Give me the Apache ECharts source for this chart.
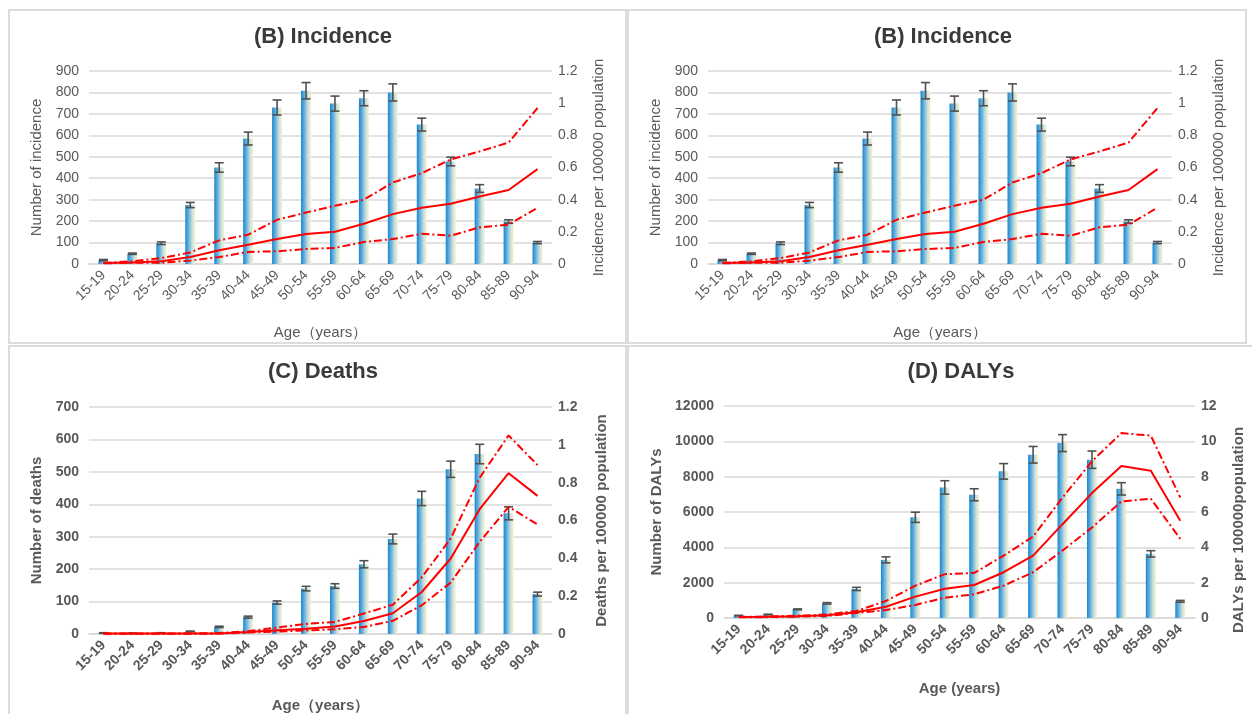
<!DOCTYPE html>
<html>
<head>
<meta charset="utf-8">
<script src="https://cdn.jsdelivr.net/npm/echarts@6/dist/echarts.min.js"></script>
<style>
  html, body { margin: 0; padding: 0; background: #fff; }
  .panel { position: absolute; box-sizing: border-box; border: 2px solid #dcdcdc; background: #fff; }
</style>
</head>
<body>
<div class="panel" id="p1" style="left:8px;top:9px;width:619px;height:335px;"></div>
<div class="panel" id="p2" style="left:627px;top:9px;width:620px;height:335px;"></div>
<div class="panel" id="p3" style="left:8px;top:345px;width:619px;height:369px;border-bottom:none;"></div>
<div class="panel" id="p4" style="left:627px;top:345px;width:625px;height:369px;border-bottom:none;border-right:none;"></div>
<script>
// age groups (x axis)
const ageGroups = ['15-19', '20-24', '25-29', '30-34', '35-39', '40-44', '45-49', '50-54',
  '55-59', '60-64', '65-69', '70-74', '75-79', '80-84', '85-89', '90-94'];

// incidence: counts, half width of error bar, rate per 100000 with bounds
const incidenceNum = [18, 48, 97, 275, 450, 585, 730, 808, 748, 773, 800, 650, 478, 352, 198, 100];
const incidenceErr = [3, 3, 6, 12, 22, 30, 35, 38, 35, 35, 40, 30, 20, 18, 8, 5];
const incidenceRate = [0.006, 0.01, 0.017, 0.043, 0.085, 0.12, 0.155, 0.186, 0.2, 0.25, 0.31, 0.35, 0.375, 0.42, 0.46, 0.59];
const incidenceUpper = [0.006, 0.017, 0.037, 0.072, 0.147, 0.182, 0.275, 0.32, 0.362, 0.4, 0.507, 0.565, 0.65, 0.7, 0.755, 0.97];
const incidenceLower = [0.004, 0.008, 0.008, 0.021, 0.043, 0.075, 0.079, 0.093, 0.1, 0.137, 0.155, 0.188, 0.176, 0.228, 0.245, 0.35];

// deaths
const deathsNum = [3, 2, 3, 8, 22, 52, 97, 140, 148, 215, 293, 418, 508, 555, 372, 123];
const deathsErr = [1, 1, 1, 1, 2, 3, 5, 7, 7, 11, 15, 22, 25, 30, 20, 6];
const deathsRate = [0.002, 0.002, 0.002, 0.002, 0.003, 0.01, 0.02, 0.028, 0.04, 0.069, 0.11, 0.222, 0.399, 0.66, 0.85, 0.73];
const deathsUpper = [0.003, 0.003, 0.003, 0.003, 0.005, 0.015, 0.034, 0.053, 0.064, 0.108, 0.155, 0.3, 0.505, 0.826, 1.05, 0.893];
const deathsLower = [0.001, 0.001, 0.001, 0.001, 0.002, 0.008, 0.013, 0.019, 0.025, 0.037, 0.07, 0.152, 0.272, 0.487, 0.672, 0.579];

// DALYs
const dalysNum = [140, 200, 490, 830, 1645, 3290, 5700, 7390, 6975, 8300, 9240, 9900, 8960, 7310, 3630, 945];
const dalysErr = [10, 10, 25, 40, 90, 170, 290, 380, 340, 440, 470, 480, 490, 350, 180, 50];
const dalysRate = [0.05, 0.07, 0.1, 0.15, 0.32, 0.64, 1.21, 1.66, 1.87, 2.59, 3.53, 5.31, 7.07, 8.6, 8.34, 5.5];
const dalysUpper = [0.06, 0.09, 0.13, 0.2, 0.4, 0.96, 1.83, 2.48, 2.55, 3.53, 4.61, 6.82, 8.87, 10.47, 10.32, 6.82];
const dalysLower = [0.04, 0.05, 0.08, 0.12, 0.28, 0.45, 0.74, 1.15, 1.34, 1.83, 2.59, 3.82, 5.12, 6.6, 6.75, 4.48];

const FONT = '"Liberation Sans", Arial, sans-serif';
const GRAY = '#595959';

function makeOption(cfg) {
  const weight = cfg.bold ? 'bold' : 'normal';
  const errData = cfg.num.map((v, i) => [i, v - cfg.err[i], v + cfg.err[i]]);
  const dashDot = [8, 3, 2, 3];
  return {
    animation: false,
    textStyle: { fontFamily: FONT },
    title: {
      text: cfg.title,
      left: cfg.titleLeft,
      textAlign: 'center',
      top: cfg.titleTop,
      textStyle: { fontSize: 22, fontWeight: 'bold', color: '#3a3a3a', fontFamily: FONT }
    },
    grid: Object.assign({ outerBoundsMode: 'none' }, cfg.grid),
    xAxis: {
      type: 'category',
      data: ageGroups,
      name: cfg.xName,
      nameLocation: 'middle',
      nameGap: cfg.xNameGap,
      nameTextStyle: { fontSize: 15, color: GRAY, fontWeight: weight },
      axisLine: { lineStyle: { color: '#d9d9d9', width: 1.5 } },
      axisTick: { show: false },
      axisLabel: { interval: 0, rotate: 45, fontSize: 14, color: GRAY, fontWeight: weight, margin: 9 }
    },
    yAxis: [{
      type: 'value',
      min: 0, max: cfg.leftMax, interval: cfg.leftStep,
      name: cfg.leftName,
      nameLocation: 'middle',
      nameGap: cfg.leftNameGap,
      nameTextStyle: { fontSize: 15, color: GRAY, fontWeight: weight },
      axisLine: { show: false },
      axisTick: { show: false },
      axisLabel: { fontSize: 14, color: GRAY, fontWeight: weight, margin: 10, formatter: v => String(v) },
      splitLine: { lineStyle: { color: '#d9d9d9', width: 1.5 } }
    }, {
      type: 'value',
      min: 0, max: cfg.rightMax, interval: cfg.rightStep,
      name: cfg.rightName,
      nameLocation: 'middle',
      nameGap: cfg.rightNameGap,
      nameTextStyle: { fontSize: 15, color: GRAY, fontWeight: weight, padding: cfg.rightNamePad || 0 },
      axisLine: { show: false },
      axisTick: { show: false },
      axisLabel: { fontSize: 14, color: GRAY, fontWeight: weight, margin: 6 },
      splitLine: { show: false }
    }],
    series: [{
      type: 'bar',
      data: cfg.num,
      barWidth: 10,
      itemStyle: {
        color: new echarts.graphic.LinearGradient(0, 0, 1, 0, [
          { offset: 0, color: '#1089cf' },
          { offset: 0.35, color: '#6db1dc' },
          { offset: 0.7, color: '#c9e1dc' },
          { offset: 1, color: '#f7f4d0' }
        ])
      }
    }, {
      type: 'custom',
      data: errData,
      z: 5,
      renderItem: function (params, api) {
        const lo = api.coord([api.value(0), api.value(1)]);
        const hi = api.coord([api.value(0), api.value(2)]);
        const w = 4.5;
        const st = { stroke: '#505050', lineWidth: 1.6 };
        return {
          type: 'group',
          children: [
            { type: 'line', shape: { x1: lo[0], y1: lo[1], x2: hi[0], y2: hi[1] }, style: st },
            { type: 'line', shape: { x1: lo[0] - w, y1: lo[1], x2: lo[0] + w, y2: lo[1] }, style: st },
            { type: 'line', shape: { x1: hi[0] - w, y1: hi[1], x2: hi[0] + w, y2: hi[1] }, style: st }
          ]
        };
      }
    }, {
      type: 'line', yAxisIndex: 1, data: cfg.rate, showSymbol: false, z: 6,
      lineStyle: { color: '#ff0000', width: 2 }
    }, {
      type: 'line', yAxisIndex: 1, data: cfg.upper, showSymbol: false, z: 6,
      lineStyle: { color: '#ff0000', width: 2, type: dashDot }
    }, {
      type: 'line', yAxisIndex: 1, data: cfg.lower, showSymbol: false, z: 6,
      lineStyle: { color: '#ff0000', width: 2, type: dashDot }
    }]
  };
}

const incidenceCfg = {
  title: '(B) Incidence', titleTop: 10, bold: false,
  num: incidenceNum, err: incidenceErr, rate: incidenceRate, upper: incidenceUpper, lower: incidenceLower,
  leftMax: 900, leftStep: 100, rightMax: 1.2, rightStep: 0.2,
  leftName: 'Number of incidence', leftNameGap: 42,
  rightName: 'Incidence per 100000 population', rightNameGap: 39,
  xName: 'Age（years）', xNameGap: 61
};

const c1 = echarts.init(document.getElementById('p1'));
c1.setOption(makeOption(Object.assign({}, incidenceCfg, {
  titleLeft: 308, grid: { left: 79, right: 73, top: 60, bottom: 78 }
})));

const c2 = echarts.init(document.getElementById('p2'));
c2.setOption(makeOption(Object.assign({}, incidenceCfg, {
  titleLeft: 309, grid: { left: 79, right: 73, top: 60, bottom: 78 }
})));

const c3 = echarts.init(document.getElementById('p3'));
c3.setOption(makeOption({
  title: '(C) Deaths', titleTop: 9, titleLeft: 308, bold: true,
  grid: { left: 79, right: 73, top: 60, bottom: 80 },
  num: deathsNum, err: deathsErr, rate: deathsRate, upper: deathsUpper, lower: deathsLower,
  leftMax: 700, leftStep: 100, rightMax: 1.2, rightStep: 0.2,
  leftName: 'Number of deaths', leftNameGap: 42,
  rightName: 'Deaths per 100000 population', rightNameGap: 42,
  xName: 'Age（years）', xNameGap: 64
}));

const c4 = echarts.init(document.getElementById('p4'));
c4.setOption(makeOption({
  title: '(D) DALYs', titleTop: 9, titleLeft: 327, bold: true,
  grid: { left: 95, right: 57, top: 59, bottom: 96 },
  num: dalysNum, err: dalysErr, rate: dalysRate, upper: dalysUpper, lower: dalysLower,
  leftMax: 12000, leftStep: 2000, rightMax: 12, rightStep: 2,
  leftName: 'Number of DALYs', leftNameGap: 58,
  rightName: 'DALYs per 100000population', rightNameGap: 36, rightNamePad: [0, 36, 0, 0],
  xName: 'Age (years)', xNameGap: 63
}));
</script>
</body>
</html>
